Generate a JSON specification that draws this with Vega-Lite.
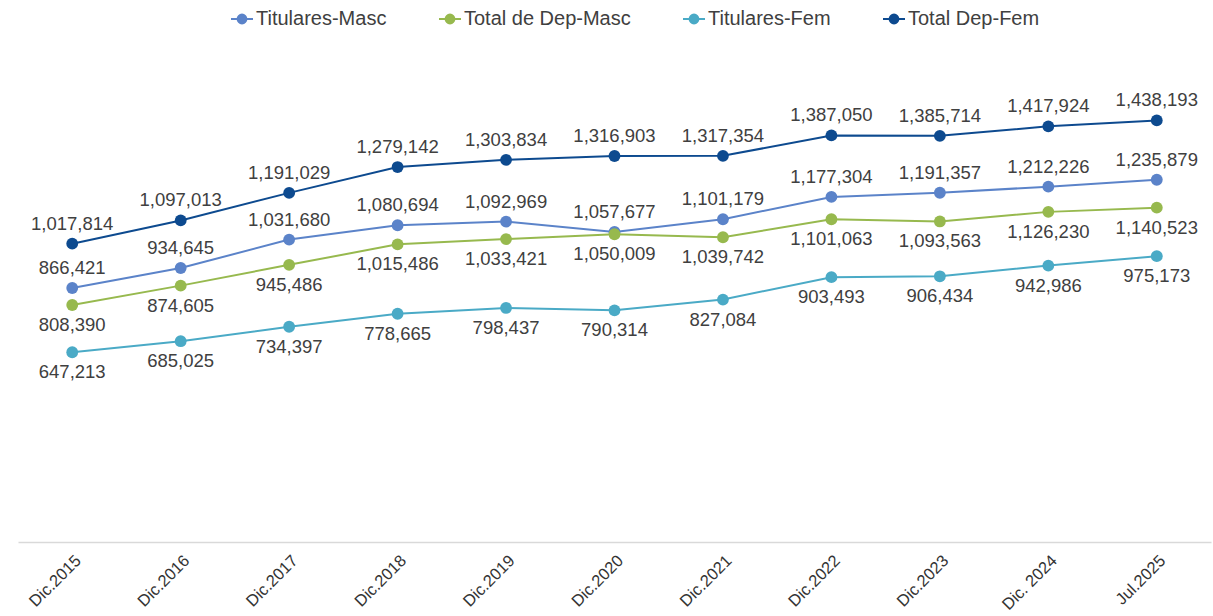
{
  "$schema": "https://vega.github.io/schema/vega-lite/v6.json",
  "width": 1193,
  "height": 469,
  "autosize": "none",
  "padding": {"top": 73, "left": 18, "right": 2, "bottom": 74},
  "background": "white",
  "config": {"view": {"stroke": null}},
  "data": {"values": [
    {"periodo": "Dic.2015", "serie": "Titulares-Masc", "valor": 866421},
    {"periodo": "Dic.2016", "serie": "Titulares-Masc", "valor": 934645},
    {"periodo": "Dic.2017", "serie": "Titulares-Masc", "valor": 1031680},
    {"periodo": "Dic.2018", "serie": "Titulares-Masc", "valor": 1080694},
    {"periodo": "Dic.2019", "serie": "Titulares-Masc", "valor": 1092969},
    {"periodo": "Dic.2020", "serie": "Titulares-Masc", "valor": 1057677},
    {"periodo": "Dic.2021", "serie": "Titulares-Masc", "valor": 1101179},
    {"periodo": "Dic.2022", "serie": "Titulares-Masc", "valor": 1177304},
    {"periodo": "Dic.2023", "serie": "Titulares-Masc", "valor": 1191357},
    {"periodo": "Dic. 2024", "serie": "Titulares-Masc", "valor": 1212226},
    {"periodo": "Jul.2025", "serie": "Titulares-Masc", "valor": 1235879},
    {"periodo": "Dic.2015", "serie": "Total de Dep-Masc", "valor": 808390},
    {"periodo": "Dic.2016", "serie": "Total de Dep-Masc", "valor": 874605},
    {"periodo": "Dic.2017", "serie": "Total de Dep-Masc", "valor": 945486},
    {"periodo": "Dic.2018", "serie": "Total de Dep-Masc", "valor": 1015486},
    {"periodo": "Dic.2019", "serie": "Total de Dep-Masc", "valor": 1033421},
    {"periodo": "Dic.2020", "serie": "Total de Dep-Masc", "valor": 1050009},
    {"periodo": "Dic.2021", "serie": "Total de Dep-Masc", "valor": 1039742},
    {"periodo": "Dic.2022", "serie": "Total de Dep-Masc", "valor": 1101063},
    {"periodo": "Dic.2023", "serie": "Total de Dep-Masc", "valor": 1093563},
    {"periodo": "Dic. 2024", "serie": "Total de Dep-Masc", "valor": 1126230},
    {"periodo": "Jul.2025", "serie": "Total de Dep-Masc", "valor": 1140523},
    {"periodo": "Dic.2015", "serie": "Titulares-Fem", "valor": 647213},
    {"periodo": "Dic.2016", "serie": "Titulares-Fem", "valor": 685025},
    {"periodo": "Dic.2017", "serie": "Titulares-Fem", "valor": 734397},
    {"periodo": "Dic.2018", "serie": "Titulares-Fem", "valor": 778665},
    {"periodo": "Dic.2019", "serie": "Titulares-Fem", "valor": 798437},
    {"periodo": "Dic.2020", "serie": "Titulares-Fem", "valor": 790314},
    {"periodo": "Dic.2021", "serie": "Titulares-Fem", "valor": 827084},
    {"periodo": "Dic.2022", "serie": "Titulares-Fem", "valor": 903493},
    {"periodo": "Dic.2023", "serie": "Titulares-Fem", "valor": 906434},
    {"periodo": "Dic. 2024", "serie": "Titulares-Fem", "valor": 942986},
    {"periodo": "Jul.2025", "serie": "Titulares-Fem", "valor": 975173},
    {"periodo": "Dic.2015", "serie": "Total Dep-Fem", "valor": 1017814},
    {"periodo": "Dic.2016", "serie": "Total Dep-Fem", "valor": 1097013},
    {"periodo": "Dic.2017", "serie": "Total Dep-Fem", "valor": 1191029},
    {"periodo": "Dic.2018", "serie": "Total Dep-Fem", "valor": 1279142},
    {"periodo": "Dic.2019", "serie": "Total Dep-Fem", "valor": 1303834},
    {"periodo": "Dic.2020", "serie": "Total Dep-Fem", "valor": 1316903},
    {"periodo": "Dic.2021", "serie": "Total Dep-Fem", "valor": 1317354},
    {"periodo": "Dic.2022", "serie": "Total Dep-Fem", "valor": 1387050},
    {"periodo": "Dic.2023", "serie": "Total Dep-Fem", "valor": 1385714},
    {"periodo": "Dic. 2024", "serie": "Total Dep-Fem", "valor": 1417924},
    {"periodo": "Jul.2025", "serie": "Total Dep-Fem", "valor": 1438193}
  ]},
  "encoding": {
    "x": {
      "field": "periodo", "type": "ordinal", "sort": null,
      "scale": {"type": "point", "padding": 0.5},
      "axis": {
        "title": null, "labelAngle": -45, "labelFont": "Liberation Sans", "labelFontSize": 16.5,
        "labelColor": "#333333", "ticks": false, "grid": false, "labelPadding": 10,
        "domainColor": "#D9D9D9", "domainWidth": 1.5
      }
    },
    "y": {
      "field": "valor", "type": "quantitative",
      "scale": {"domain": [0, 1600000], "nice": false, "zero": true},
      "axis": null
    }
  },
  "layer": [
    {
      "mark": {"type": "line", "strokeWidth": 2},
      "encoding": {
        "color": {
          "field": "serie", "type": "nominal",
          "scale": {
            "domain": ["Titulares-Masc", "Total de Dep-Masc", "Titulares-Fem", "Total Dep-Fem"],
            "range": ["#5B83C9", "#97B94E", "#4AAAC6", "#0D4A8F"]
          },
          "legend": {
            "title": null, "orient": "none", "legendX": 212, "legendY": -66, "direction": "horizontal",
            "symbolType": "M-1,0L1,0M-0.4,0A0.4,0.4,0,1,1,0.4,0A0.4,0.4,0,1,1,-0.4,0Z",
            "symbolSize": 484, "symbolStrokeWidth": 2,
            "labelFont": "Liberation Sans", "labelFontSize": 20, "labelColor": "#404040",
            "labelLimit": 400, "columnPadding": 48, "labelOffset": 2
          }
        }
      }
    },
    {
      "mark": {"type": "point", "filled": true, "size": 140, "opacity": 1},
      "encoding": {
        "color": {"field": "serie", "type": "nominal"}
      }
    },
    {
      "transform": [{"filter": {"field": "serie", "oneOf": ["Titulares-Masc", "Total Dep-Fem"]}}],
      "mark": {"type": "text", "dy": -20, "font": "Liberation Sans", "fontSize": 18.5, "color": "#404040", "baseline": "middle"},
      "encoding": {"text": {"field": "valor", "type": "quantitative", "format": ","}}
    },
    {
      "transform": [{"filter": {"field": "serie", "oneOf": ["Total de Dep-Masc", "Titulares-Fem"]}}],
      "mark": {"type": "text", "dy": 20, "font": "Liberation Sans", "fontSize": 18.5, "color": "#404040", "baseline": "middle"},
      "encoding": {"text": {"field": "valor", "type": "quantitative", "format": ","}}
    }
  ]
}
